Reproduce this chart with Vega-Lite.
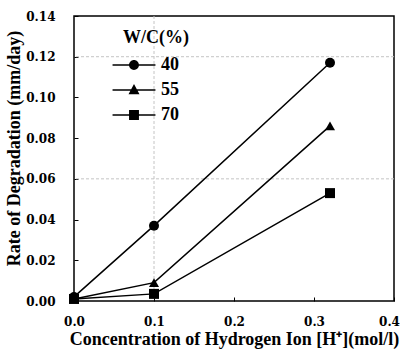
{
  "$schema": "https://vega.github.io/schema/vega-lite/v6.json",
  "width": 320,
  "height": 285,
  "autosize": "none",
  "padding": {"left": 74, "top": 16, "right": 8, "bottom": 48},
  "background": "white",
  "config": {
    "view": {"stroke": "black", "strokeWidth": 1.5},
    "font": "DejaVu Serif",
    "axis": {
      "labelFont": "DejaVu Serif", "labelFontWeight": "bold", "labelFontSize": 12, "labelColor": "black",
      "titleFont": "Liberation Serif", "titleFontWeight": "bold", "titleFontSize": 18, "titleColor": "black",
      "domain": false, "grid": false, "tickColor": "black", "tickWidth": 1, "tickSize": -4,
      "labelFlush": false, "labelOverlap": false
    }
  },
  "data": {
    "values": [
      {"h": 0.0, "rate": 0.002, "wc": "40"},
      {"h": 0.1, "rate": 0.037, "wc": "40"},
      {"h": 0.32, "rate": 0.117, "wc": "40"},
      {"h": 0.0, "rate": 0.001, "wc": "55"},
      {"h": 0.1, "rate": 0.009, "wc": "55"},
      {"h": 0.32, "rate": 0.086, "wc": "55"},
      {"h": 0.0, "rate": 0.001, "wc": "70"},
      {"h": 0.1, "rate": 0.0035, "wc": "70"},
      {"h": 0.32, "rate": 0.053, "wc": "70"}
    ]
  },
  "resolve": {"scale": {"shape": "independent"}},
  "layer": [
    {
      "data": {"values": [{"g": 0.06}, {"g": 0.12}]},
      "mark": {"type": "rule", "color": "#c4c4c4", "strokeDash": [3, 2], "strokeWidth": 1},
      "encoding": {"y": {"field": "g", "type": "quantitative", "scale": {"domain": [0, 0.14], "nice": false}}}
    },
    {
      "data": {"values": [{"g": 0.1}]},
      "mark": {"type": "rule", "color": "#c4c4c4", "strokeDash": [3, 2], "strokeWidth": 1},
      "encoding": {"x": {"field": "g", "type": "quantitative", "scale": {"domain": [0, 0.4], "nice": false}}}
    },
    {
      "mark": {"type": "line", "color": "black", "strokeWidth": 1.5, "clip": false},
      "encoding": {
        "x": {"field": "h", "type": "quantitative", "scale": {"domain": [0, 0.4], "nice": false},
              "axis": {"values": [0, 0.1, 0.2, 0.3, 0.4], "format": ".1f", "labelPadding": 19,
                       "labelOffset": {"condition": {"test": "datum.value >= 0.39", "value": -5}, "value": 0},
                       "title": "Concentration of Hydrogen Ion [H⁺](mol/l)", "titlePadding": 3}},
        "y": {"field": "rate", "type": "quantitative", "scale": {"domain": [0, 0.14], "nice": false},
              "axis": {"values": [0, 0.02, 0.04, 0.06, 0.08, 0.1, 0.12, 0.14], "format": ".2f", "labelPadding": 23,
                       "title": "Rate of Degradation (mm/day)", "titlePadding": 2, "titleY": 132}},
        "detail": {"field": "wc", "type": "nominal"}
      }
    },
    {
      "mark": {"type": "point", "filled": true, "color": "black", "size": 100, "opacity": 1, "clip": false},
      "encoding": {
        "x": {"field": "h", "type": "quantitative"},
        "y": {"field": "rate", "type": "quantitative"},
        "shape": {"field": "wc", "type": "nominal",
                  "scale": {"domain": ["40", "55", "70"], "range": ["circle", "triangle-up", "square"]},
                  "legend": null}
      }
    },
    {
      "mark": {"type": "point", "filled": true, "color": "black", "opacity": 0},
      "encoding": {
        "x": {"field": "h", "type": "quantitative"},
        "y": {"field": "rate", "type": "quantitative"},
        "shape": {"field": "wc", "type": "nominal",
                  "scale": {"domain": ["40", "55", "70"], "range": [
                    "M-1.95,-0.07H1.95V0.07H-1.95Z M-0.45,0A0.45,0.45 0 1,1 0.45,0A0.45,0.45 0 1,1 -0.45,0Z",
                    "M-1.95,-0.07H1.95V0.07H-1.95Z M0,-0.55L0.5,0.38L-0.5,0.38Z",
                    "M-1.95,-0.07H1.95V0.07H-1.95Z M-0.45,-0.45H0.45V0.45H-0.45Z"
                  ]},
                  "legend": {
                    "title": "W/C(%)", "orient": "none", "legendX": 49, "legendY": 13, "padding": 0,
                    "symbolSize": 484, "symbolFillColor": "black", "symbolStrokeColor": "black", "symbolStrokeWidth": 0,
                    "symbolOpacity": 1, "labelOffset": 16, "rowPadding": 5, "titlePadding": 7,
                    "titleFont": "Liberation Serif", "titleFontWeight": "bold", "titleFontSize": 18, "titleColor": "black",
                    "labelFont": "Liberation Serif", "labelFontWeight": "bold", "labelFontSize": 18, "labelColor": "black"
                  }}
      }
    }
  ]
}
